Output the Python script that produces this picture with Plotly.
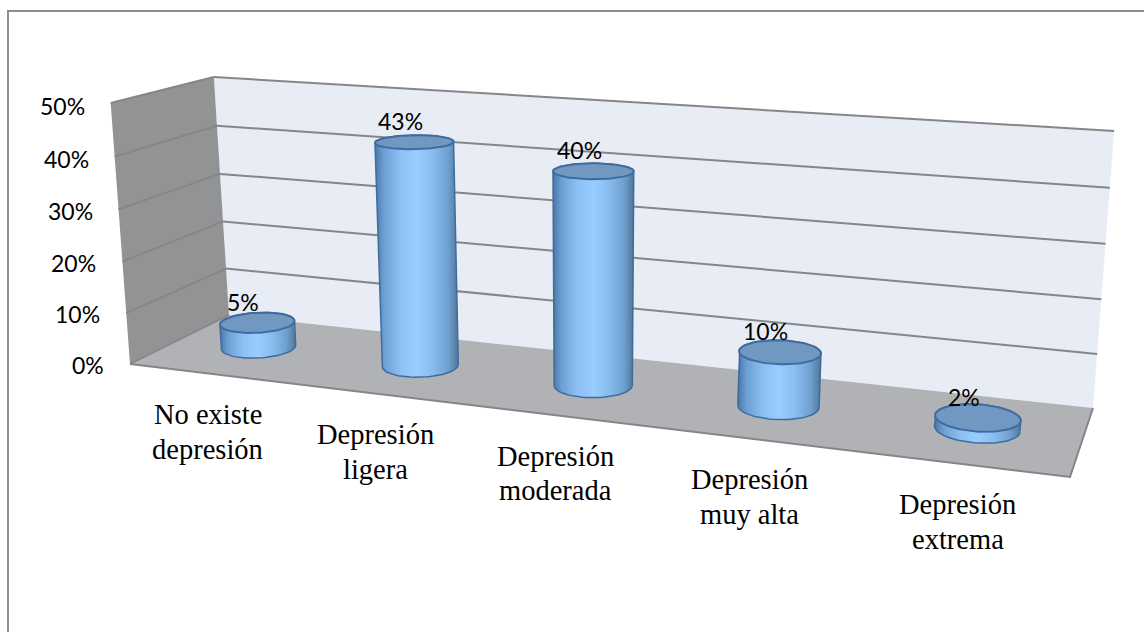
import numpy as np
import plotly.graph_objects as go

categories = ["No existe<br>depresión", "Depresión<br>ligera", "Depresión<br>moderada", "Depresión<br>muy alta", "Depresión<br>extrema"]
values = [5, 43, 40, 10, 2]
value_labels = ["5%", "43%", "40%", "10%", "2%"]
y_ticks = [0, 10, 20, 30, 40, 50]
y_tick_labels = ["0%", "10%", "20%", "30%", "40%", "50%"]

# Pixel corners of the perspective box (u: category, z: depth)
FLOOR = [(130, 364), (1070, 477), (1093, 408), (229, 315)]
CEIL = [(110, 103), (1095, 172), (1113, 131), (213, 77)]
Y_MAX = 50
RU, RZ = 0.041, 0.2
LEAN, LEAN_X0 = 0.042, 590


def homography(q):
    A, b = [], []
    for (u, v), (x, y) in zip([(0, 0), (1, 0), (1, 1), (0, 1)], q):
        A.append([u, v, 1, 0, 0, 0, -u * x, -v * x])
        A.append([0, 0, 0, u, v, 1, -u * y, -v * y])
        b += [x, y]
    h = np.linalg.solve(np.array(A, float), np.array(b, float))
    return np.append(h, 1).reshape(3, 3)


HF, HC = homography(FLOOR), homography(CEIL)


def proj(u, z, val):
    u, z = np.asarray(u, float), np.asarray(z, float)
    p = np.stack([u, z, np.ones_like(u)])
    f, c = HF @ p, HC @ p
    f, c = f[:2] / f[2], c[:2] / c[2]
    t = np.asarray(val, float) / Y_MAX
    t = t * (1 - 0.03 * (1 - t))  # slight foreshortening of the value axis
    return f[0] + LEAN * (f[0] - LEAN_X0) * t, f[1] + (c[1] - f[1]) * t


def hull(x, y):
    pts = sorted(set(zip(np.round(x, 2).tolist(), np.round(y, 2).tolist())))
    def half(ps):
        h = []
        for p in ps:
            while len(h) > 1 and (h[-1][0]-h[-2][0])*(p[1]-h[-2][1]) - (h[-1][1]-h[-2][1])*(p[0]-h[-2][0]) <= 0:
                h.pop()
            h.append(p)
        return h[:-1]
    h = half(pts) + half(pts[::-1])
    h.append(h[0])
    return [p[0] for p in h], [p[1] for p in h]


fig = go.Figure()


def poly(u, z, v, fill):
    x, y = proj(u, z, v)
    fig.add_trace(go.Scatter(x=x, y=y, mode="lines", fill="toself", fillcolor=fill,
                             line=dict(width=0), hoverinfo="skip", showlegend=False))


def seg(u, z, v, color="#858688", width=2):
    x, y = proj(u, z, v)
    fig.add_trace(go.Scatter(x=x, y=y, mode="lines", line=dict(color=color, width=width),
                             hoverinfo="skip", showlegend=False))


# Chart frame (only the top and left edges fall inside the picture)
fig.add_trace(go.Scatter(x=[8, 8, 1144], y=[632, 11, 11], mode="lines",
                         line=dict(color="#8c8c8c", width=2), hoverinfo="skip", showlegend=False))

poly([0, 1, 1, 0], [1, 1, 1, 1], [0, 0, Y_MAX, Y_MAX], "#e8ecf5")
poly([0, 0, 0, 0], [0, 1, 1, 0], [0, 0, Y_MAX, Y_MAX], "#929395")
poly([0, 1, 1, 0], [0, 0, 1, 1], [0, 0, 0, 0], "#b0b2b5")

for t in y_ticks[1:]:
    seg([0, 0], [0, 1], [t, t])
    seg([0, 1], [1, 1], [t, t])
seg([0, 1, 1], [0, 0, 1], [0, 0, 0], "#858688", 2)
seg([0, 0], [0, 1], [0, 0], "#858688", 1.5)

# Cylinders
a = np.linspace(0, 2 * np.pi, 73)
STOPS = [[0, "#4a76a6"], [0.1, "#6b9dd2"], [0.3, "#8cc0f5"], [0.5, "#99ccff"],
         [0.7, "#88bbee"], [0.88, "#6f9fce"], [1, "#4f7697"]]
for i, v in enumerate(values):
    uc = (i + 0.5) / len(values)
    uu, zz = uc + RU * np.cos(a), 0.5 + RZ * np.sin(a)
    bx, by = proj(uu, zz, np.zeros_like(a))
    tx, ty = proj(uu, zz, np.full_like(a, v))
    hx, hy = hull(np.r_[bx, tx], np.r_[by, ty])
    fig.add_trace(go.Scatter(x=hx, y=hy, mode="lines", fill="toself",
                             fillgradient=dict(type="horizontal", colorscale=STOPS,
                                               start=min(hx), stop=max(hx)),
                             line=dict(color="#3f6c9f", width=1.5), hoverinfo="skip", showlegend=False))
    fig.add_trace(go.Scatter(x=tx, y=ty, mode="lines", fill="toself", fillcolor="#7098c1",
                             line=dict(color="#3f6c9f", width=2), hoverinfo="skip", showlegend=False))
    lx, ly = proj(uc, 0.5, v)
    fig.add_annotation(x=float(lx) - 14, y=float(ly) - 21, text=value_labels[i], showarrow=False,
                       font=dict(family="Lato", size=23, color="#000000"))

# Value axis labels
for t, s in zip(y_ticks, y_tick_labels):
    lx, ly = proj(0, 0, t)
    fig.add_annotation(x=float(lx) - 24, y=float(ly) + 1 + t * 0.04, text=s, showarrow=False, xanchor="right",
                       font=dict(family="Lato", size=23, color="#000000"))

# Category labels
for i, s in enumerate(categories):
    lx, ly = proj((i + 0.5) / len(values), 0, 0)
    for k, line in enumerate(s.split("<br>")):
        fig.add_annotation(x=float(lx) - 2, y=float(ly) + 41 + 34.5 * k, text=line, showarrow=False,
                           font=dict(family="Liberation Serif", size=28.5, color="#000000"))

fig.update_layout(width=1144, height=632, margin=dict(l=0, r=0, t=0, b=0),
                  paper_bgcolor="white", plot_bgcolor="white", showlegend=False,
                  xaxis=dict(range=[0, 1144], visible=False, fixedrange=True),
                  yaxis=dict(range=[632, 0], visible=False, fixedrange=True))
fig.write_html("out.html", config=dict(displayModeBar=False),
               post_script="document.body.style.margin='0';document.documentElement.style.overflow='hidden';")
